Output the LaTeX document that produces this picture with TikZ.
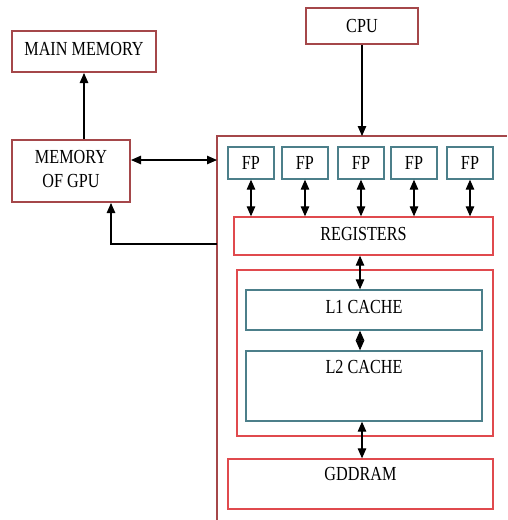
\documentclass[tikz,border=0pt]{standalone}
\usepackage{graphicx}
\usepackage{fontspec}
\setmainfont{Liberation Serif}
\usetikzlibrary{arrows.meta,calc}
\definecolor{dred}{HTML}{A5474A}
\definecolor{lred}{HTML}{E04A4E}
\definecolor{teal2}{HTML}{4C7F8A}
\newcommand{\st}[1]{\scalebox{1}[1.23]{#1}}
\tikzset{
  base/.style={rectangle, inner sep=0pt, align=center, font=\fontsize{16.2}{24}\selectfont},
  darkbox/.style={base, draw=dred, line width=2pt},
  redbox/.style={base, draw=lred, line width=1.3pt},
  tealbox/.style={base, draw=teal2, line width=1.3pt},
  tip/.style={line width=1.1pt, -{Triangle[length=10pt,width=8.5pt]}},
  dtip/.style={line width=1.1pt, {Triangle[length=10pt,width=8.5pt]}-{Triangle[length=10pt,width=8.5pt]}},
  toplabel/.style 2 args={label={[base, anchor=north, yshift=-#2]north:\st{#1}}}
}
\begin{document}
\begin{tikzpicture}[x=1pt,y=-1pt]
\useasboundingbox (0,0) rectangle (507,520);
% GPU outline (open container)
\coordinate (gbl) at (217,520);
\coordinate (gtl) at (217,136);
\coordinate (gtr) at (507,136);
\coordinate (gret) at (217,244);
\draw[dred, line width=2pt] (gbl) -- (gtl) -- (gtr);

\node[darkbox, minimum width=144pt, minimum height=41pt, text depth=6pt] (mm) at (84,51.5) {\st{MAIN MEMORY}};
\node[darkbox, minimum width=118pt, minimum height=62pt, text depth=5pt] (mgpu) at (71,171) {\st{MEMORY}\\\st{OF GPU}};
\node[darkbox, minimum width=112pt, minimum height=36pt] (cpu) at (362,26) {\st{CPU}};

\foreach \i/\x in {1/251,2/305,3/361,4/414,5/470}
  \node[tealbox, minimum width=46pt, minimum height=32pt] (fp\i) at (\x,163) {\st{FP}};

\node[redbox, minimum width=259pt, minimum height=38pt, text depth=4pt] (reg) at (363.5,236) {\st{REGISTERS}};
\node[redbox, minimum width=256pt, minimum height=166pt] (cache) at (365,353) {};
\node[tealbox, minimum width=236pt, minimum height=40pt, text depth=6pt] (l1) at (364,310) {\st{L1 CACHE}};
\node[tealbox, minimum width=236pt, minimum height=70pt, toplabel={L2 CACHE}{10pt}] (l2) at (364,386) {};
\node[redbox, minimum width=265pt, minimum height=50pt, toplabel={GDDRAM}{9pt}] (gdd) at (360.5,484) {};

% connectors
\draw[tip] (mgpu.north -| mm.south) -- (mm.south);
\draw[dtip] (mgpu.east |- 0,160) -- (gtl |- 0,160);
\draw[tip] (cpu.south) -- (cpu.south |- gtl);
\draw[tip] (gret) -| ([xshift=40pt]mgpu.south);
\foreach \i in {1,...,5}
  \draw[dtip] (fp\i.south) -- (fp\i.south |- reg.north);
\draw[dtip] ([xshift=-3.5pt]reg.south) -- ([xshift=-3.5pt]reg.south |- l1.north);
\draw[dtip] ([xshift=-4pt]l1.south) -- ([xshift=-4pt]l2.north);
\draw[dtip] ([xshift=-2pt]l2.south) -- ([xshift=-2pt]l2.south |- gdd.north);
\end{tikzpicture}
\end{document}
